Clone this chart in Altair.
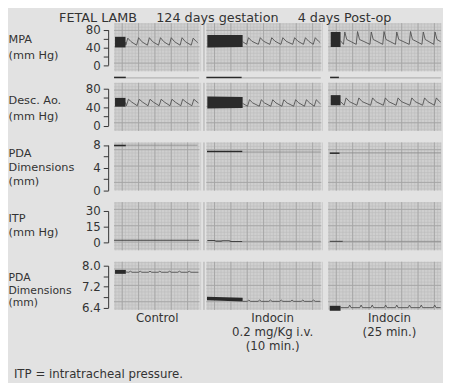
import altair as alt
import pandas as pd

# ---------------- text ----------------
TITLE = "FETAL LAMB\u2003\u2002124 days gestation\u2003\u20024 days Post-op"
FOOTNOTE = "ITP = intratracheal pressure."
CONDITIONS = [["Control"], ["Indocin", "0.2 mg/Kg i.v.", "(10 min.)"], ["Indocin", "(25 min.)"]]
CHANNEL_TITLES = [["MPA", "(mm Hg)"], ["Desc. Ao.", "(mm Hg)"], ["PDA", "Dimensions", "(mm)"],
                  ["ITP", "(mm Hg)"], ["PDA", "Dimensions", "(mm)"]]
CHANNEL_TICKS = [[0, 20, 40, 60, 80], [0, 20, 40, 60, 80], [0, 2, 4, 6, 8], [0, 15, 30],
                 [6.4, 6.8, 7.2, 7.6, 8.0]]
CHANNEL_LABELS = [["0", "40", "80"], ["0", "40", "80"], ["0", "4", "8"], ["0", "15", "30"],
                  ["6.4", "7.2", "8.0"]]
CHANNEL_FORMAT = ["d", "d", "d", "d", ".1f"]
CHANNEL_DOMAIN = [[0, 80], [0, 80], [0, 8], [0, 30], [6.4, 8.0]]

# ---------------- data (time in s, values in channel units) ----------------
# MPA (mmHg)
MPA_BLOCK_T = [[0.03, 0.35], [0.03, 1.11], [0.08, 0.38]]
MPA_BLOCK_LO = [[40, 40], [40, 41], [41, 41]]
MPA_BLOCK_HI = [[64, 64], [68, 68], [75, 75]]
MPA_T = [
    [0.35, 0.36, 0.42, 0.52, 0.69, 0.75, 0.85, 1.02, 1.08, 1.18, 1.36, 1.42, 1.52, 1.69, 1.75, 1.85,
     2.02, 2.08, 2.18, 2.36, 2.42, 2.52, 2.56],
    [1.11, 1.23, 1.29, 1.39, 1.59, 1.65, 1.75, 1.94, 2.00, 2.10, 2.28, 2.34, 2.44, 2.64, 2.70, 2.80,
     2.97, 3.03, 3.13, 3.27, 3.33, 3.43, 3.48],
    [0.38, 0.47, 0.51, 0.57, 0.86, 0.90, 0.96, 1.28, 1.32, 1.38, 1.67, 1.71, 1.77, 2.06, 2.10, 2.16,
     2.48, 2.52, 2.58, 2.87, 2.91, 2.97, 3.23, 3.27, 3.33, 3.44],
]
MPA_V = [
    [52, 45, 61, 53, 45, 62, 53, 45, 62, 53, 45, 62, 53, 45, 62, 53, 45, 62, 53, 45, 61, 53, 51],
    [53, 47, 62, 54, 47, 62, 54, 47, 62, 54, 47, 62, 54, 47, 62, 54, 47, 62, 54, 47, 62, 54, 51],
    [55, 47, 75, 58, 47, 76, 58, 47, 75, 58, 47, 76, 58, 47, 75, 58, 47, 76, 58, 47, 75, 58, 47, 75, 58, 53],
]
# event marker under the MPA channel
MARK_T = [[0.0, 0.36], [0.0, 1.08], [0.06, 0.33]]
MARK_V = [[-28, -28], [-28, -28], [-28, -28]]
MARK_FAINT_T = [[0.36, 2.6], [1.08, 3.5], [0.33, 3.45]]
MARK_FAINT_V = [[-29, -29], [-29, -29], [-29, -29]]

# Descending aorta (mmHg)
AO_BLOCK_T = [[0.03, 0.35], [0.03, 1.11], [0.08, 0.38]]
AO_BLOCK_LO = [[41, 41], [37, 38], [44, 44]]
AO_BLOCK_HI = [[60, 60], [63, 62], [66, 66]]
AO_T = [
    [0.35, 0.38, 0.44, 0.54, 0.71, 0.77, 0.87, 1.04, 1.10, 1.20, 1.38, 1.44, 1.54, 1.71, 1.77, 1.87,
     2.04, 2.10, 2.20, 2.38, 2.44, 2.54, 2.58],
    [1.11, 1.26, 1.32, 1.42, 1.62, 1.68, 1.78, 1.97, 2.03, 2.13, 2.31, 2.37, 2.47, 2.67, 2.73, 2.83,
     3.00, 3.06, 3.16, 3.30, 3.36, 3.46, 3.49],
    [0.38, 0.49, 0.55, 0.65, 0.88, 0.94, 1.04, 1.30, 1.36, 1.46, 1.69, 1.75, 1.85, 2.08, 2.14, 2.24,
     2.50, 2.56, 2.66, 2.89, 2.95, 3.05, 3.25, 3.31, 3.41, 3.44],
]
AO_V = [
    [50, 43, 57, 51, 43, 57, 51, 43, 57, 51, 43, 57, 51, 43, 57, 51, 43, 57, 51, 43, 57, 51, 49],
    [48, 42, 56, 49, 42, 56, 49, 42, 56, 49, 42, 56, 49, 42, 56, 49, 42, 56, 49, 42, 56, 49, 47],
    [52, 44, 60, 52, 44, 60, 52, 44, 60, 52, 44, 60, 52, 44, 60, 52, 44, 60, 52, 44, 60, 52, 44, 60, 52, 50],
]

# PDA dimension, coarse scale (mm)
PDA_T = [[0.0, 0.36], [0.02, 1.1], [0.05, 0.35]]
PDA_V = [[7.9, 7.9], [6.85, 6.85], [6.55, 6.55]]
PDA_FAINT_T = [[0.36, 2.55], [1.1, 3.5], [0.35, 3.45]]
PDA_FAINT_V = [[7.95, 7.95], [6.75, 6.75], [6.6, 6.6]]

# ITP (mmHg)
ITP_T = [[0.0, 2.6], [0.03, 0.25, 0.3, 0.45, 0.5, 0.7, 0.75, 1.1], [0.05, 0.45]]
ITP_V = [[2, 2], [1.8, 1.8, 1.2, 1.2, 1.5, 1.5, 0.8, 0.8], [1, 1]]
ITP_FAINT_T = [[], [1.1, 3.5], [0.45, 3.45]]
ITP_FAINT_V = [[], [1, 1], [1, 1]]

# PDA dimension, fine scale (mm)
PDA2_BLOCK_T = [[0.03, 0.36], [0.02, 1.11], [0.05, 0.38]]
PDA2_BLOCK_LO = [[7.69, 7.69], [6.68, 6.63], [6.28, 6.28]]
PDA2_BLOCK_HI = [[7.84, 7.84], [6.82, 6.78], [6.47, 6.47]]
PDA2_T = [
    [0.36, 0.45, 0.50, 0.55, 0.75, 0.80, 0.85, 1.05, 1.10, 1.15, 1.35, 1.40, 1.45, 1.65, 1.70, 1.75,
     1.95, 2.00, 2.05, 2.25, 2.30, 2.35, 2.58],
    [1.11, 1.25, 1.30, 1.35, 1.58, 1.63, 1.68, 1.91, 1.96, 2.01, 2.24, 2.29, 2.34, 2.57, 2.62, 2.67,
     2.90, 2.95, 3.00, 3.23, 3.28, 3.33, 3.48],
    [0.38, 0.62, 0.66, 0.70, 0.97, 1.01, 1.05, 1.31, 1.35, 1.39, 1.72, 1.76, 1.80, 2.06, 2.10, 2.14,
     2.45, 2.49, 2.53, 2.81, 2.85, 2.89, 3.22, 3.26, 3.30, 3.44],
]
PDA2_V = [
    [7.76, 7.75, 7.79, 7.75, 7.75, 7.79, 7.75, 7.75, 7.79, 7.75, 7.75, 7.79, 7.75, 7.75, 7.79, 7.75,
     7.75, 7.79, 7.75, 7.75, 7.79, 7.75, 7.75],
    [6.64, 6.64, 6.69, 6.64, 6.64, 6.69, 6.64, 6.64, 6.69, 6.64, 6.64, 6.69, 6.64, 6.64, 6.69, 6.64,
     6.64, 6.69, 6.64, 6.64, 6.69, 6.64, 6.64],
    [6.40, 6.40, 6.50, 6.40, 6.40, 6.50, 6.40, 6.40, 6.50, 6.40, 6.40, 6.50, 6.40, 6.40, 6.50, 6.40,
     6.40, 6.50, 6.40, 6.40, 6.50, 6.40, 6.40, 6.50, 6.40, 6.40],
]

# ---------------- layout / style ----------------
PX_PER_S = 33.3
COL_W = [87, 117, 115]
COND_TITLE_X = [None, 67, 62]
ROW_H = 49
ROW_GAP = 11.75
COL_GAP = 7
# pixel positions (within each row) of the lowest and highest calibration ticks
ROW_RANGE = [[42.7, 6.7], [43.55, 5.95], [48.8, 2.5], [41.0, 9.0], [46.7, 4.0]]
TITLE_Y = [11, 12, 5.5, 11, 10.5]
TITLE_LH = [15.5, 16, 14, 14, 12.5]
TITLE_FS = [11.5, 11.5, 11.5, 11.5, 11]

FONT = "DejaVu Sans"
INK = "#333333"
PAGE = "#e2e2e2"
PAPER = "#cfcfcf"
GRID_MINOR = "#bdbdbd"
GRID_MAJOR = "#a4a4a4"
TRACE = "#505050"
DARK = "#2a2a2a"
FAINT = "#8c8c8c"


def label_expr(labels):
    return "indexof(" + str(labels) + ", datum.label) >= 0 ? datum.label : ''"


def panel(r, c):
    W = COL_W[c]
    H = ROW_H
    t_max = W / PX_PER_S
    xs = alt.Scale(domain=[0, t_max], nice=False, zero=False)
    ys = alt.Scale(domain=CHANNEL_DOMAIN[r], range=ROW_RANGE[r], nice=False, zero=False)

    if r == 4:
        ax_kw = dict(title=CONDITIONS[c], labels=False, ticks=False, domain=False, grid=False,
                     titlePadding=3, titleFont=FONT, titleFontSize=12, titleFontWeight="normal",
                     titleColor=INK, titleLineHeight=14, titleBaseline="top")
        if COND_TITLE_X[c] is not None:
            ax_kw["titleX"] = COND_TITLE_X[c]
        x_axis = alt.Axis(**ax_kw)
    else:
        x_axis = None

    if c == 0:
        y_axis = alt.Axis(values=CHANNEL_TICKS[r], format=CHANNEL_FORMAT[r],
                          labelExpr=label_expr(CHANNEL_LABELS[r]), grid=False, offset=6,
                          tickSize=5, labelPadding=3, labelFont=FONT, labelFontSize=12,
                          labelColor=INK, domainColor=INK, tickColor=INK, domainWidth=1,
                          tickWidth=1, title=CHANNEL_TITLES[r], titleAngle=0, titleAlign="left",
                          titleBaseline="top", titleX=-102, titleY=TITLE_Y[r], titleFont=FONT,
                          titleFontSize=TITLE_FS[r], titleFontWeight="normal", titleColor=INK,
                          titleLineHeight=TITLE_LH[r])
    else:
        y_axis = None

    def X(field):
        return alt.X(field, scale=xs, axis=x_axis)

    # decorative chart-paper grid (0.1 s / 1 mm minor, 0.5 s / 5 mm major)
    vminor = pd.DataFrame({"g": [0.05 + 0.1 * k for k in range(int(t_max * 10) + 1)]})
    vmajor = pd.DataFrame({"g": [0.25 + 0.5 * k for k in range(int(t_max * 2) + 1)]})
    h_mm = H / 3.33
    hminor = pd.DataFrame({"g": [0.5 + k for k in range(int(h_mm) + 1)]})
    hmajor = pd.DataFrame({"g": [2.5 + 5 * k for k in range(int(h_mm / 5) + 1)]})
    gys = alt.Scale(domain=[0, h_mm], nice=False, zero=False)

    layers = [
        alt.Chart(vminor).mark_rule(color=GRID_MINOR, strokeWidth=0.6).encode(x=X("g:Q")),
        alt.Chart(hminor).mark_rule(color=GRID_MINOR, strokeWidth=0.6).encode(
            y=alt.Y("g:Q", scale=gys, axis=None)),
        alt.Chart(vmajor).mark_rule(color=GRID_MAJOR, strokeWidth=0.9).encode(x=X("g:Q")),
        alt.Chart(hmajor).mark_rule(color=GRID_MAJOR, strokeWidth=0.9).encode(
            y=alt.Y("g:Q", scale=gys, axis=None)),
    ]

    def line(T, V, color, width, axis=None):
        df = pd.DataFrame({"t": T, "v": V})
        return alt.Chart(df).mark_line(color=color, strokeWidth=width).encode(
            x=X("t:Q"), y=alt.Y("v:Q", scale=ys, axis=axis))

    def block(T, LO, HI):
        df = pd.DataFrame({"t": T, "lo": LO, "hi": HI})
        return alt.Chart(df).mark_area(color=DARK, opacity=1).encode(
            x=X("t:Q"), y=alt.Y("hi:Q", scale=ys, axis=None), y2=alt.Y2("lo:Q"))

    if r == 0:
        layers += [line(MPA_T[c], MPA_V[c], TRACE, 0.9, y_axis),
                   block(MPA_BLOCK_T[c], MPA_BLOCK_LO[c], MPA_BLOCK_HI[c]),
                   line(MARK_FAINT_T[c], MARK_FAINT_V[c], FAINT, 0.7),
                   line(MARK_T[c], MARK_V[c], DARK, 1.6)]
    elif r == 1:
        layers += [line(AO_T[c], AO_V[c], TRACE, 0.9, y_axis),
                   block(AO_BLOCK_T[c], AO_BLOCK_LO[c], AO_BLOCK_HI[c])]
    elif r == 2:
        layers += [line(PDA_FAINT_T[c], PDA_FAINT_V[c], FAINT, 0.8, y_axis),
                   line(PDA_T[c], PDA_V[c], DARK, 1.6)]
    elif r == 3:
        layers += [line(ITP_T[c], ITP_V[c], "#444444", 1.1, y_axis)]
        if ITP_FAINT_T[c]:
            layers += [line(ITP_FAINT_T[c], ITP_FAINT_V[c], FAINT, 0.8)]
    else:
        layers += [line(PDA2_T[c], PDA2_V[c], TRACE, 0.9, y_axis),
                   block(PDA2_BLOCK_T[c], PDA2_BLOCK_LO[c], PDA2_BLOCK_HI[c])]
        if c == 0:
            note = pd.DataFrame({"note": [FOOTNOTE]})
            layers += [alt.Chart(note).mark_text(align="left", baseline="middle", font=FONT,
                                                 fontSize=12, color=INK).encode(
                text="note:N", x=alt.value(-102), y=alt.value(114))]

    return alt.layer(*layers).resolve_scale(y="independent").properties(width=W, height=H)


panels = [panel(r, c) for r in range(5) for c in range(3)]

chart = alt.concat(*panels, columns=3, spacing={"row": ROW_GAP, "column": COL_GAP},
                   bounds="flush", align="each").properties(
    title=alt.TitleParams(text=TITLE, font=FONT, fontSize=13, fontWeight="normal", color=INK,
                          anchor="middle", frame="bounds", offset=-2),
    padding=0,
    background=PAGE,
).configure_view(fill=PAPER, stroke=None)

chart.save("out.html", embed_options={"renderer": "svg", "actions": False})
